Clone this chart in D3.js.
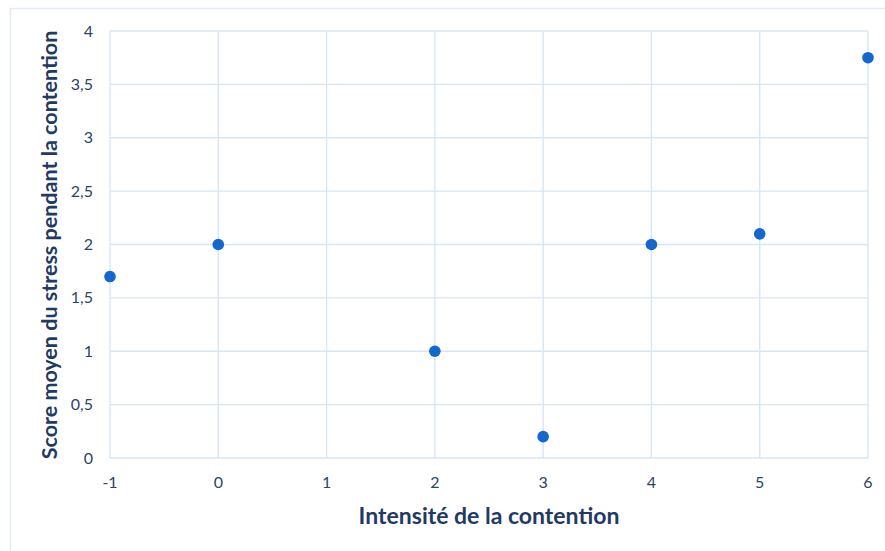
<!DOCTYPE html>
<html><head><meta charset="utf-8">
<script src="https://cdn.jsdelivr.net/npm/d3@7"></script>
<style>body{margin:0;background:#fff}svg{display:block}</style>
</head><body>
<svg id="c" width="885" height="551"></svg>
<script>
const xValues = [-1, 0, 2, 3, 4, 5, 6];
const yValues = [1.7, 2, 1, 0.2, 2, 2.1, 3.75];
const xTicks = [-1, 0, 1, 2, 3, 4, 5, 6];
const yTicks = [0, 0.5, 1, 1.5, 2, 2.5, 3, 3.5, 4];
const xTitle = "Intensité de la contention";
const yTitle = "Score moyen du stress pendant la contention";

const svg = d3.select("#c");
const font = "Lato, 'Open Sans', sans-serif";
const gridColor = "#d8e5f6";
const textColor = "#2c4468";
const titleColor = "#1f3a64";

svg.append("rect").attr("x", 10.5).attr("y", 8.5).attr("width", 900).attr("height", 600)
  .attr("fill", "#fff").attr("stroke", "#e2ebf7").attr("stroke-width", 1.5);

const x = d3.scaleLinear().domain([-1, 6]).range([110, 868]);
const y = d3.scaleLinear().domain([0, 4]).range([458, 31]);

const g = svg.append("g");
g.selectAll(".vg").data(xTicks).enter().append("line")
  .attr("x1", d => x(d)).attr("x2", d => x(d)).attr("y1", y(0)).attr("y2", y(4))
  .attr("stroke", gridColor).attr("stroke-width", 1.4);
g.selectAll(".hg").data(yTicks).enter().append("line")
  .attr("x1", x(-1)).attr("x2", x(6)).attr("y1", d => y(d)).attr("y2", d => y(d))
  .attr("stroke", gridColor).attr("stroke-width", 1.4);

const fmt = d => String(d).replace(".", ",");
g.selectAll(".yl").data(yTicks).enter().append("text")
  .attr("x", 93).attr("y", d => y(d)).attr("dy", "0.35em")
  .attr("text-anchor", "end").attr("font-family", font).attr("font-size", 16)
  .attr("fill", textColor).text(fmt);
g.selectAll(".xl").data(xTicks).enter().append("text")
  .attr("x", d => x(d)).attr("y", 488)
  .attr("text-anchor", "middle").attr("font-family", font).attr("font-size", 16)
  .attr("fill", textColor).text(fmt);

svg.append("text").attr("x", 489).attr("y", 524).attr("text-anchor", "middle")
  .attr("font-family", font).attr("font-weight", "bold").attr("font-size", 23)
  .attr("fill", titleColor).text(xTitle);
svg.append("text").attr("transform", "translate(57,245) rotate(-90)").attr("text-anchor", "middle")
  .attr("font-family", font).attr("font-weight", "bold").attr("font-size", 21.5)
  .attr("fill", titleColor).text(yTitle);

const pts = xValues.map((v, i) => ({x: v, y: yValues[i]}));
svg.selectAll(".pt").data(pts).enter().append("circle")
  .attr("cx", d => x(d.x)).attr("cy", d => y(d.y)).attr("r", 5.8)
  .attr("fill", "#1268cc");
</script>
</body></html>
